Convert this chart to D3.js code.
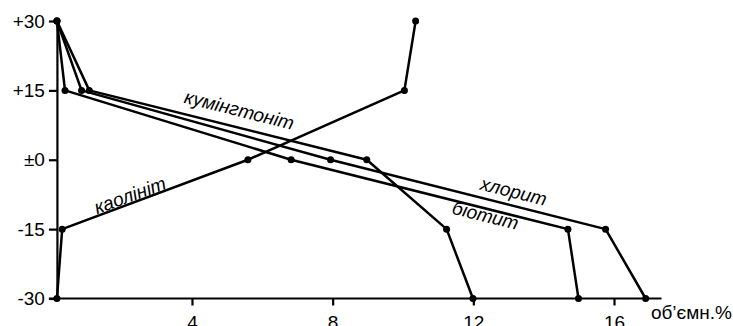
<!DOCTYPE html>
<html>
<head>
<meta charset="utf-8">
<script src="https://cdn.jsdelivr.net/npm/d3@7"></script>
<style>
  body { margin: 0; background: #fff; }
  svg { display: block; font-family: "Liberation Sans", Arial, sans-serif; }
</style>
</head>
<body>
<div id="chart"></div>
<script>
// depth levels (y) and mineral volumes (x)
var depths = [30, 15, 0, -15, -30];
var biotite = [0.16, 0.39, 6.82, 14.69, 14.99];
var chlorite = [0.16, 0.86, 7.94, 15.76, 16.9];
var cummingtonite = [0.16, 1.08, 8.97, 11.24, 11.99];
var kaolinite = [10.36, 10.04, 5.59, 0.31, 0.16];

var yTicks = [30, 15, 0, -15, -30];
var yTickLabels = ["+30", "+15", "\u00b10", "-15", "-30"];
var xTicks = [4, 8, 12, 16];
var xTitle = "об\u2019ємн.%";

// label text, anchor point in data units, angle
var labelNames = ["кумінгтоніт", "каолініт", "хлорит", "біотит"];
var labelX = [5.3, 2.3, 13.1, 12.3];
var labelY = [9.4, -9.0, -8.2, -13.4];
var labelAngle = [14, -20, 14, 14];

var width = 733, height = 326;
var xStart = 0.16, xEnd = 17.35;
var fontSize = 19;

var svg = d3.select("#chart")
    .append("svg")
    .attr("width", width)
    .attr("height", height);

var xScale = d3.scaleLinear()
    .domain([0, 16])
    .range([51.3, 614]);

var yScale = d3.scaleLinear()
    .domain([-30, 30])
    .range([298.5, 21]);

// y axis
var yAxis = d3.axisLeft(yScale)
    .tickValues(yTicks)
    .tickFormat(function(d, i) { return yTickLabels[i]; })
    .tickSize(8)
    .tickSizeOuter(0)
    .tickPadding(4);

var gy = svg.append("g")
    .attr("transform", "translate(" + xScale(xStart) + ",0)")
    .call(yAxis);
gy.selectAll("text").attr("font-size", fontSize).attr("fill", "#000")
    .attr("font-family", "Liberation Sans, Arial, sans-serif");
gy.selectAll("line, path").attr("stroke", "#000").attr("stroke-width", 2.2);

// x axis
var xAxis = d3.axisBottom(xScale)
    .tickValues(xTicks)
    .tickSize(7)
    .tickSizeOuter(0)
    .tickPadding(10);

var gx = svg.append("g")
    .attr("transform", "translate(0," + yScale(-30) + ")")
    .call(xAxis);
gx.select(".domain").remove();
gx.selectAll("text").attr("font-size", fontSize).attr("fill", "#000")
    .attr("font-family", "Liberation Sans, Arial, sans-serif");
gx.selectAll("line").attr("stroke", "#000").attr("stroke-width", 2.2);

svg.append("line")
    .attr("x1", xScale(xStart) - 8)
    .attr("x2", xScale(xEnd))
    .attr("y1", yScale(-30))
    .attr("y2", yScale(-30))
    .attr("stroke", "#000")
    .attr("stroke-width", 2.2);

svg.append("text")
    .attr("x", width - 1)
    .attr("y", yScale(-30) + 20)
    .attr("text-anchor", "end")
    .attr("font-size", fontSize)
    .text(xTitle);

// series
var series = [biotite, chlorite, cummingtonite, kaolinite];

var line = d3.line()
    .x(function(d) { return xScale(d[0]); })
    .y(function(d) { return yScale(d[1]); });

series.forEach(function(s) {
    var pts = s.map(function(v, i) { return [v, depths[i]]; });
    svg.append("path")
        .datum(pts)
        .attr("d", line)
        .attr("fill", "none")
        .attr("stroke", "#000")
        .attr("stroke-width", 2.5)
        .attr("stroke-linejoin", "round");
    svg.selectAll(null)
        .data(pts)
        .enter()
        .append("circle")
        .attr("cx", function(d) { return xScale(d[0]); })
        .attr("cy", function(d) { return yScale(d[1]); })
        .attr("r", 3.5)
        .attr("fill", "#000");
});

// curve labels
labelNames.forEach(function(name, i) {
    svg.append("text")
        .attr("transform", "translate(" + xScale(labelX[i]) + "," + yScale(labelY[i]) + ") rotate(" + labelAngle[i] + ")")
        .attr("text-anchor", "middle")
        .attr("font-size", fontSize)
        .attr("font-style", "italic")
        .text(name);
});
</script>
</body>
</html>
